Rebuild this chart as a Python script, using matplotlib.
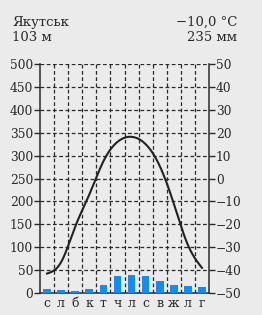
import numpy as np
import matplotlib.pyplot as plt

# Якутськ: кліматограма
months = ["с", "л", "б", "к", "т", "ч", "л", "с", "в", "ж", "л", "г"]
precip = [8, 6, 5, 8, 17, 37, 40, 38, 27, 18, 16, 13]
temp = [-41.5, -36.5, -21, -7, 7.5, 16, 18.2, 15, 5.5, -11, -29, -39]
precip_ticks = list(range(0, 501, 50))
temp_ticks = list(range(-50, 51, 10))

SERIF = ["DejaVu Serif"]
BG = "#ebebeb"
INK = "#2a2a2a"


def natural_spline(xs, ys, n=300):
    # natural cubic spline through the points, only to draw the smooth curve
    xs = np.asarray(xs, float)
    ys = np.asarray(ys, float)
    m = len(xs)
    h = np.diff(xs)
    A = np.zeros((m, m))
    b = np.zeros(m)
    A[0, 0] = A[-1, -1] = 1
    for i in range(1, m - 1):
        A[i, i - 1] = h[i - 1]
        A[i, i] = 2 * (h[i - 1] + h[i])
        A[i, i + 1] = h[i]
        b[i] = 6 * ((ys[i + 1] - ys[i]) / h[i] - (ys[i] - ys[i - 1]) / h[i - 1])
    M = np.linalg.solve(A, b)
    xx = np.linspace(xs[0], xs[-1], n)
    idx = np.clip(np.searchsorted(xs, xx) - 1, 0, m - 2)
    x0, x1 = xs[idx], xs[idx + 1]
    hh = x1 - x0
    a = (x1 - xx) / hh
    c = (xx - x0) / hh
    yy = (a * ys[idx] + c * ys[idx + 1]
          + ((a ** 3 - a) * M[idx] + (c ** 3 - c) * M[idx + 1]) * hh ** 2 / 6)
    return xx, yy


fig = plt.figure(figsize=(2.62, 3.15), dpi=100, facecolor=BG)
ax = fig.add_axes([0.1527, 0.0698, 0.645, 0.727])
ax.set_facecolor(BG)

x = np.arange(len(months)) + 0.5
ax.bar(x, precip, width=0.55, color="#148cf8", zorder=3)

ax.set_xlim(0, 12)
ax.set_ylim(0, 500)
ax.set_yticks(precip_ticks)
ax.set_yticklabels([str(v) for v in precip_ticks], family=SERIF, fontsize=8.8, color=INK)
ax.set_xticks(x)
ax.set_xticklabels(months, family=SERIF, fontsize=9, color=INK)
ax.tick_params(axis="x", length=0, pad=3)
ax.tick_params(axis="y", length=4, width=1, color=INK, pad=1)

for v in precip_ticks[1:]:
    ax.axhline(v, color=INK, lw=0.9, ls=(0, (3, 2)), zorder=1)
for k in range(1, 12):
    ax.axvline(k, color=INK, lw=0.9, ls=(0, (3, 2)), zorder=1)

for s in ("left", "bottom"):
    ax.spines[s].set_color(INK)
    ax.spines[s].set_linewidth(1.1)
ax.spines["top"].set_visible(False)
ax.spines["right"].set_visible(False)

ax2 = ax.twinx()
ax2.set_ylim(-50, 50)
ax2.set_yticks(temp_ticks)
ax2.set_yticklabels([str(v).replace("-", "−") for v in temp_ticks], family=SERIF, fontsize=8.8, color=INK)
ax2.tick_params(axis="y", length=4, width=1, color=INK, pad=1)
for s in ("left", "bottom", "top"):
    ax2.spines[s].set_visible(False)
ax2.spines["right"].set_color(INK)
ax2.spines["right"].set_linewidth(1.1)

cx, cy = natural_spline(x, temp)
ax2.plot(cx, cy, color="#222222", lw=1.5, zorder=4)

fig.text(0.046, 0.918, "Якутськ", family=SERIF, fontsize=9.5, color=INK, va="baseline")
fig.text(0.046, 0.870, "103 м", family=SERIF, fontsize=9.5, color=INK, va="baseline")
fig.text(0.905, 0.918, "−10,0 °C", family=SERIF, fontsize=9.5, color=INK, va="baseline", ha="right")
fig.text(0.905, 0.870, "235 мм", family=SERIF, fontsize=9.5, color=INK, va="baseline", ha="right")

fig.savefig("out.png", dpi=100, facecolor=BG)
